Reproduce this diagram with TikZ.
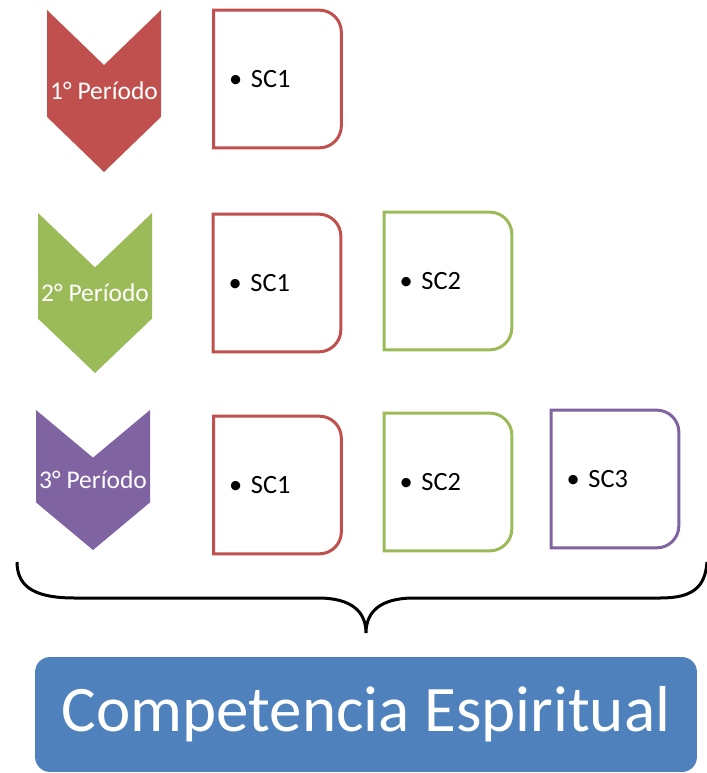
\documentclass[tikz,border=0pt]{standalone}
\usepackage{fontspec}
\setmainfont{Carlito}
\usetikzlibrary{positioning, calc}

\definecolor{perred}{HTML}{C0504D}
\definecolor{pergreen}{HTML}{9BBB59}
\definecolor{perpurple}{HTML}{8064A2}
\definecolor{compblue}{HTML}{4F81BD}

\begin{document}
\begin{tikzpicture}[
    x=0.02cm, y=0.02cm,
    perlabel/.style={text=white, inner sep=0, font=\fontsize{14.5}{16}\selectfont},
    scbox/.style={minimum width=2.54cm, minimum height=2.74cm, inner xsep=0.3cm, inner ysep=0,
        text width=1.94cm, align=left, font=\fontsize{15}{18}\selectfont},
    scline/.style={line width=0.06cm},
    comp/.style={fill=compblue, text=white, rounded corners=0.3cm, minimum width=13.24cm,
        minimum height=2.3cm, font=\fontsize{37}{40}\selectfont}
    ]
    \useasboundingbox (0,0) rectangle (706,-773);

    % chevrons: name/colour/centre x/top/bottom/label
    \foreach \n/\col/\cx/\top/\bot/\txt in {p1/perred/104/10/172/1,
                                             p2/pergreen/95/213/373/2,
                                             p3/perpurple/93/410/550/3} {
        \pgfmathsetmacro{\d}{0.34*(\bot-\top)}
        \fill[\col] (\cx-57,-\top) -- (\cx,-\top-\d) -- (\cx+57,-\top)
            -- (\cx+57,-\bot+\d) -- (\cx,-\bot) -- (\cx-57,-\bot+\d) -- cycle;
        \node[perlabel] (\n) at (\cx,{-(\top+\bot)/2}) {\txt° Período};
    }

    % competence boxes
    \node[scbox] (a1) at (277.5,-79) {\textbullet\ SC1};
    \node[scbox] (b1) at (277,-283) {\textbullet\ SC1};
    \node[scbox] (b2) at (448,-281) {\textbullet\ SC2};
    \node[scbox] (c1) at (277.5,-485) {\textbullet\ SC1};
    \node[scbox] (c2) at (448,-482) {\textbullet\ SC2};
    \node[scbox] (c3) at (615,-479) {\textbullet\ SC3};
    \foreach \b/\col in {a1/perred, b1/perred, b2/pergreen, c1/perred, c2/pergreen, c3/perpurple}
        \draw[scline, draw=\col] (\b.south west) -- (\b.north west)
            -- ([xshift=-0.44cm]\b.north east) arc[start angle=90, end angle=0, radius=0.44cm]
            -- ([yshift=0.44cm]\b.south east) arc[start angle=0, end angle=-90, radius=0.44cm]
            -- cycle;

    % brace and result
    \coordinate (tip) at (366,-633);
    \draw[scline] (17,-562) .. controls (17,-590) and (40,-598) .. (75,-598) -- (318,-598)
        .. controls (352,-598) and (366,-612) .. (tip)
        .. controls (366,-612) and (380,-598) .. (414,-598) -- (660,-598)
        .. controls (692,-598) and (705,-588) .. (707,-562);
    \node[comp] (comp) at (366,-714.5) {Competencia Espiritual};
\end{tikzpicture}
\end{document}
